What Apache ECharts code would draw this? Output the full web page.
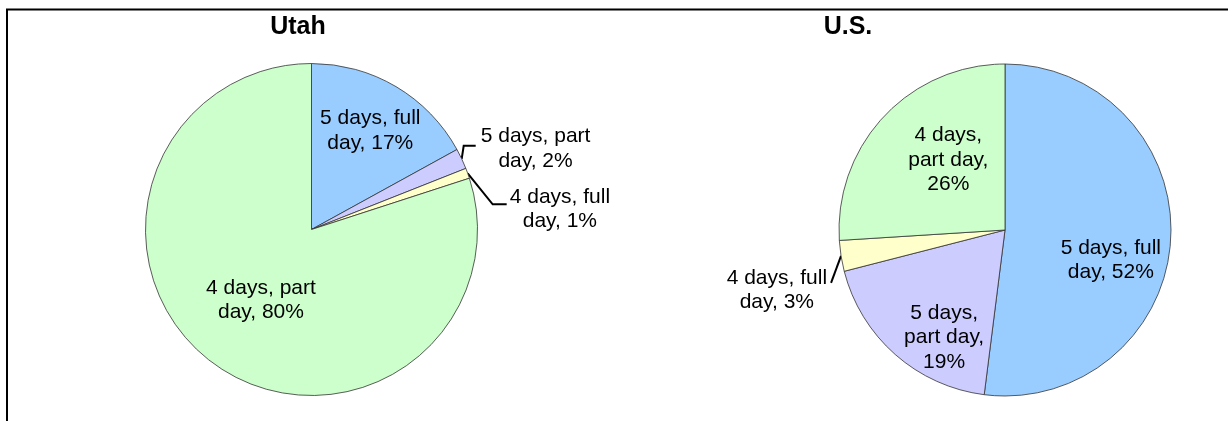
<!DOCTYPE html>
<html><head><meta charset="utf-8">
<script src="https://cdn.jsdelivr.net/npm/echarts@6/dist/echarts.min.js"></script>
<style>html,body{margin:0;padding:0;background:#fff}#c{width:1228px;height:421px}</style>
</head><body><div id="c"></div>
<script>
// ---- data ----
const categories = ['5 days, full day', '5 days, part day', '4 days, full day', '4 days, part day'];
const utahValues = [17, 2, 1, 80];
const usValues = [52, 19, 3, 26];
const titles = ['Utah', 'U.S.'];

// ---- styles ----
const colors = ['#99CCFF', '#CCCCFF', '#FFFFCC', '#CCFFCC'];
const utahLabelStyle = [
  {wrap: 2, dx: 15, dy: -25},
  {wrap: 2, outside: true, line: [[0, 0], [2, -13], [14, -13]], left: 19, cy: -10},
  {wrap: 2, outside: true, line: [[0, 0], [25, 31], [39, 31]], left: 42, cy: 36},
  {wrap: 2, dx: 0, dy: 1}
];
const usLabelStyle = [
  {wrap: 2, dx: 20, dy: 25},
  {wrap: 3, dx: -4, dy: 43},
  {wrap: 2, outside: true, line: [[0, 0], [-10, 27]], right: -14, cy: 34},
  {wrap: 3, dx: 6, dy: -11}
];

function wrapText(name, value, mode) {
  const w = (name + ', ' + value + '%').split(' ');
  if (mode === 3) return [w.slice(0, 2).join(' '), w.slice(2, 4).join(' '), w.slice(4).join(' ')].join('\n');
  return [w.slice(0, 3).join(' '), w.slice(3).join(' ')].join('\n');
}

function makeSeries(values, styles, center) {
  return {
    type: 'pie',
    radius: 166,
    center: center,
    startAngle: 90,
    clockwise: true,
    avoidLabelOverlap: false,
    animation: false,
    silent: true,
    itemStyle: {borderColor: '#333', borderWidth: 0.8},
    label: {
      show: true, position: 'inside', color: '#000',
      fontFamily: 'Liberation Sans', fontSize: 21, lineHeight: 24.5,
      formatter: p => wrapText(p.name, p.value, styles[p.dataIndex].wrap)
    },
    labelLine: {show: false},
    labelLayout: function (params) {
      const s = styles[params.dataIndex];
      if (!s.outside) return {dx: s.dx, dy: s.dy};
      const a = params.labelLinePoints ? params.labelLinePoints[0] : [0, 0];
      const pts = s.line.map(p => [a[0] + p[0], a[1] + p[1]]);
      const w = params.labelRect.width;
      const x = s.left != null ? a[0] + s.left + w / 2 : a[0] + s.right - w / 2;
      return {x: x, y: a[1] + s.cy, align: 'center', verticalAlign: 'middle', labelLinePoints: pts};
    },
    data: values.map((v, i) => ({
      name: categories[i], value: v,
      itemStyle: {color: colors[i]},
      label: styles[i].outside ? {position: 'outside'} : undefined,
      labelLine: styles[i].outside ? {show: true, length: 10, length2: 10, lineStyle: {color: '#000', width: 2}} : undefined
    }))
  };
}

const chart = echarts.init(document.getElementById('c'), null, {renderer: 'canvas'});
chart.setOption({
  backgroundColor: '#fff',
  animation: false,
  title: [
    {text: titles[0], left: 293, top: 10, textAlign: 'center',
     textStyle: {fontFamily: 'Liberation Sans', fontWeight: 'bold', fontSize: 25, color: '#000'}},
    {text: titles[1], left: 843, top: 10, textAlign: 'center',
     textStyle: {fontFamily: 'Liberation Sans', fontWeight: 'bold', fontSize: 25, color: '#000'}}
  ],
  graphic: [{
    type: 'polyline', silent: true,
    shape: {points: [[7, 425], [7, 9.5], [1232, 9.5]]},
    style: {stroke: '#000', lineWidth: 2, fill: null}
  }],
  series: [
    makeSeries(utahValues, utahLabelStyle, [311.5, 229.5]),
    makeSeries(usValues, usLabelStyle, [1005, 230])
  ]
});
</script>
</body></html>
